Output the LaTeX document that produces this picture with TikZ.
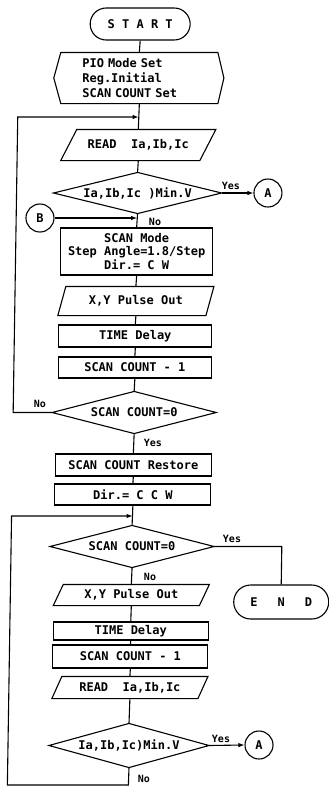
\documentclass[tikz,border=0pt]{standalone}
\usepackage{fontspec}
\newfontfamily\fcmono{DejaVu Sans Mono}
\usetikzlibrary{arrows.meta}
\newcommand\drawpara[2]{\draw ([xshift=#2]#1.north west) -- (#1.north east) -- ([xshift=-#2]#1.south east) -- (#1.south west) -- cycle;}
\newcommand\drawdia[1]{\draw (#1.north) -- (#1.east) -- (#1.south) -- (#1.west) -- cycle;}
\begin{document}
\begin{tikzpicture}[x=1pt,y=-1pt, line width=1.1pt,
  fc/.style={font=\fcmono\bfseries\fontsize{12}{13.5}\selectfont},
  lb/.style={font=\fcmono\bfseries\fontsize{10}{10}\selectfont, inner sep=0pt},
  pbox/.style={draw, fc, inner sep=0pt},
  plain/.style={fc, inner sep=0pt},
  conn/.style={draw, circle, minimum size=28pt, inner sep=0pt, fc},
  term/.style={draw, rounded corners=16pt, fc, inner sep=0pt},
  arr/.style={-{Latex[length=6pt,width=4.5pt]}},
]
\useasboundingbox (0,0) rectangle (329,787);
\begin{scope}[cm={1,0,0.0155,1,(1.55pt,0pt)}]
% nodes
\node[term, minimum width=100pt, minimum height=32pt] (start) at (139,24) {S T A R T};
\node[plain, text width=114pt, align=left, minimum width=156pt, minimum height=50pt,
      font=\fcmono\bfseries\fontsize{12}{15}\selectfont] (pio) at (139,78) {PIO Mode Set\\Reg.Initial\\SCAN COUNT Set};
\draw (pio.north west) -- (pio.north east) -- ([xshift=6pt]pio.east) -- (pio.south east) -- (pio.south west) -- ([xshift=-7pt]pio.west) -- cycle;
\node[plain, minimum width=154pt, minimum height=30pt] (read1) at (139,145) {READ\ \ Ia,Ib,Ic};
\drawpara{read1}{16pt}
\node[plain, minimum width=167pt, minimum height=40pt] (d1) at (139,193) {Ia,Ib,Ic )Min.V};
\drawdia{d1}
\node[conn] (A1) at (269.4,193) {A};
\node[conn] (B) at (41.8,218) {B};
\node[pbox, align=center, minimum width=152pt, minimum height=47pt] (scan) at (139,251.5) {SCAN Mode\\Step Angle=1.8/Step\\Dir.= C W};
\node[plain, minimum width=155pt, minimum height=28pt] (xy1) at (139,301) {X,Y Pulse Out};
\drawpara{xy1}{8pt}
\node[pbox, minimum width=153pt, minimum height=22pt] (td1) at (139,336) {TIME Delay};
\node[pbox, minimum width=153pt, minimum height=21pt] (sc1) at (139,367.5) {SCAN COUNT - 1};
\node[plain, minimum width=163pt, minimum height=41pt] (d2) at (139,412.5) {SCAN COUNT=0};
\drawdia{d2}
\node[pbox, minimum width=156pt, minimum height=22pt] (rest) at (139,465) {SCAN COUNT Restore};
\node[pbox, minimum width=156pt, minimum height=21pt] (dir2) at (139,494.5) {Dir.= C C W};
\node[plain, minimum width=163pt, minimum height=41pt] (d3) at (139,546.5) {SCAN COUNT=0};
\drawdia{d3}
\node[term, rounded corners=17pt, minimum width=95pt, minimum height=34pt] (end) at (289,602) {E\hspace{20pt}N\hspace{20pt}D};
\node[plain, minimum width=155pt, minimum height=20pt] (xy2) at (139,595) {X,Y Pulse Out};
\drawpara{xy2}{10pt}
\node[pbox, minimum width=155pt, minimum height=18pt] (td2) at (139,631) {TIME Delay};
\node[pbox, minimum width=155pt, minimum height=23pt] (sc2) at (139,656.5) {SCAN COUNT - 1};
\node[plain, minimum width=155pt, minimum height=21pt] (read2) at (139,687.5) {READ\ \ Ia,Ib,Ic};
\drawpara{read2}{10pt}
\node[plain, minimum width=159pt, minimum height=43pt] (d4) at (139,745.5) {Ia,Ib,Ic)Min.V};
\drawdia{d4}
\node[conn] (A2) at (269,745) {A};
% straight connectors
\foreach \a/\b in {start/pio, pio/read1, read1/d1, d1/scan, scan/xy1, xy1/td1, td1/sc1, sc1/d2,
                   d2/rest, rest/dir2, dir2/d3, d3/xy2, xy2/td2, td2/sc2, sc2/read2, read2/d4}
  \draw (\a.south) -- (\b.north);
% junctions and corners
\coordinate (j1) at (139,117);
\coordinate (l1t) at (18,117);
\coordinate (l1b) at (18,412.5);
\coordinate (j2) at (139,218);
\coordinate (j3) at (139,516);
\coordinate (l2t) at (18,516);
\coordinate (b1) at (139,785);
\coordinate (b2) at (18,785);
% loops and branches
\draw[arr] (d2.west) -- (l1b) -- (l1t) -- (j1);
\draw[arr] (d1.east) -- (A1.west);
\draw[arr] (B.east) -- (j2);
\draw (d3.east) -- (d3.east -| end.north) -- (end.north);
\draw[arr] (d4.east) -- (A2.west);
\draw[arr] (d4.south) -- (b1) -- (b2) -- (l2t) -- (j3);
% labels
\node[lb] (yes1) at (232.3,186) {Yes};
\node[lb] (no1) at (156.9,222) {No};
\node[lb] (no2) at (44.7,404) {No};
\node[lb] (yes2) at (158.3,443) {Yes};
\node[lb] (yes3) at (238.8,539) {Yes};
\node[lb] (no3) at (157.4,577) {No};
\node[lb] (yes4) at (230.9,739) {Yes};
\node[lb] (no4) at (154.5,779) {No};
\end{scope}
\end{tikzpicture}
\end{document}
